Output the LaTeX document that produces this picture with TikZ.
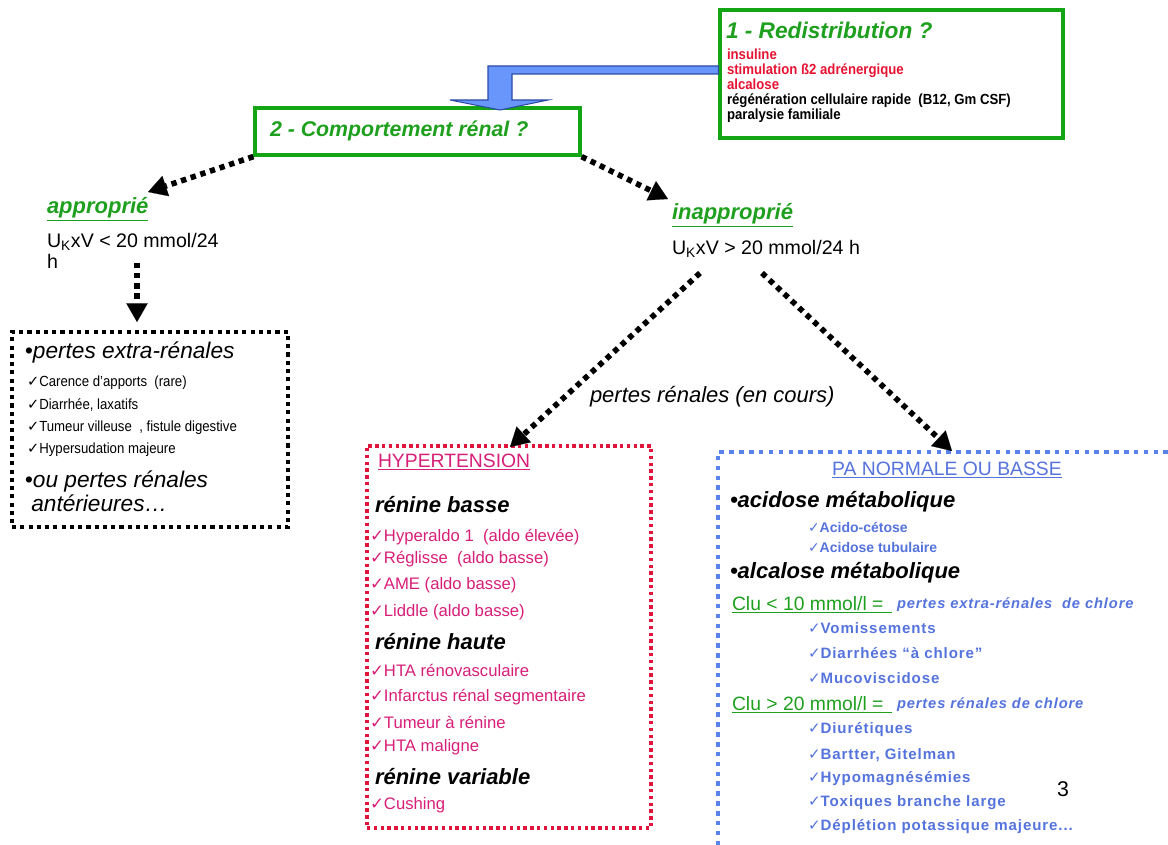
\documentclass[tikz,border=0pt]{standalone}
\usepackage{fontspec}
\setmainfont{Liberation Sans}
\newfontfamily\dv{DejaVu Sans}
\newfontfamily\nar[FakeStretch=0.8]{Liberation Sans}
\newfontfamily\semi[FakeStretch=0.9]{Liberation Sans}
\newfontfamily\spc[LetterSpace=6]{Liberation Sans}
\usetikzlibrary{arrows.meta}
\newcommand\fsz[1]{\fontsize{#1}{#1}\selectfont}
\newcommand\ck{{\dv ✓}}
\definecolor{gT}{RGB}{30,160,30}
\definecolor{gB}{RGB}{20,165,20}
\definecolor{rT}{RGB}{230,20,50}
\definecolor{pk}{RGB}{215,30,120}
\definecolor{rB}{RGB}{225,20,60}
\definecolor{bT}{RGB}{85,115,220}
\definecolor{bB}{RGB}{90,130,235}
\definecolor{aF}{RGB}{105,150,250}
\definecolor{aD}{RGB}{45,75,165}
\tikzset{
  txt/.style={anchor=west, inner sep=0pt, outer sep=0pt},
  gbox/.style={draw=gB, line width=2.4pt, inner sep=0pt},
  kbox/.style={draw=black, line width=3.2pt, dash pattern=on 3.1pt off 3.1pt, inner sep=0pt},
  rbox/.style={draw=rB, line width=2.6pt, dash pattern=on 2.5pt off 2.6pt, inner sep=0pt},
  bline/.style={draw=bB, line width=3.2pt, dash pattern=on 3.4pt off 4pt},
  karrow/.style={line width=4.2pt, dash pattern=on 4pt off 3.6pt,
    -{Triangle[length=14pt,width=16pt,line width=0.1pt]}},
  bluearrow/.style={fill=aF, draw=aD, line width=0.8pt},
  ttl/.style={txt, font=\fsz{16}\bfseries\itshape, text=gT},
  redis/.style={anchor=north west, inner sep=0pt, outer sep=0pt, align=left,
    font=\semi\bfseries\fontsize{11}{11.25}\selectfont},
  big/.style={txt, font=\fsz{17}\itshape},
  lit/.style={txt, font=\semi\fsz{11}},
  head/.style={txt, font=\fsz{16.5}\bfseries\itshape},
  pit/.style={txt, font=\fsz{12.5}, text=pk},
  bsm/.style={txt, font=\bfseries\fsz{10.5}, text=bT},
  bit/.style={txt, font=\spc\bfseries\fsz{11.3}, text=bT},
  clu/.style={txt, font=\fsz{14.5}, text=gT},
  cht/.style={txt, font=\spc\bfseries\itshape\fsz{11}, text=bT},
  uk/.style={txt, font=\fsz{14.7}},
}
\begin{document}
\begin{tikzpicture}[x=0.75pt,y=-0.75pt]
\useasboundingbox (0,0) rectangle (1168,845);

% box 1
\node[gbox, minimum width=257.25pt, minimum height=96pt] (b1) at (891.5,74) {};
\node[ttl, font=\fsz{17}\bfseries\itshape] (b1t) at (726,30) {1 - Redistribution ?};
\node[redis] (b1l) at (727,49) {\textcolor{rT}{insuline}\\
  \textcolor{rT}{stimulation ß2 adrénergique}\\
  \textcolor{rT}{alcalose}\\
  régénération cellulaire rapide\ \ (B12, Gm CSF)\\
  paralysie familiale};

% box 2
\node[gbox, minimum width=243.75pt, minimum height=35.25pt] (b2) at (417.5,131.5) {};
\node[ttl] (b2t) at (270,131) {2 - Comportement rénal ?};

% bent blue arrow from box 1 to box 2
\filldraw[bluearrow] (b1.west) -- ++(0,-8) -| (488,100) -- (450,100) -- (500,110)
  -- (548,100) -- (512,100) |- (b1.west) -- cycle;

% left branch
\node[ttl, font=\fsz{16.5}\bfseries\itshape] (ap) at (47,209) {\underline{approprié}};
\node[uk] (ap1) at (47,242) {U\textsubscript{K}xV < 20 mmol/24};
\node[uk] (ap2) at (47,261) {h};
\coordinate (apT) at (148,192);
\draw[karrow] (b2.south west) -- (apT);

\node[kbox, minimum width=207pt, minimum height=146.25pt] (lb) at (150,429.5) {};
\coordinate (dS) at (137,263);
\draw[karrow] (dS) -- (dS |- 0,322);
\node[big] (l1) at (25,353) {•pertes extra-rénales};
\node[lit] (l2) at (27,383) {\ck Carence d’apports\ \ (rare)};
\node[lit] (l3) at (27,405) {\ck Diarrhée, laxatifs};
\node[lit] (l4) at (27,428) {\ck Tumeur villeuse\ \ , fistule\ digestive};
\node[lit] (l5) at (27,450) {\ck Hypersudation majeure};
\node[big] (l6) at (25,482) {•ou pertes rénales};
\node[big] (l7) at (25,503) {\ antérieures…};

% right branch
\node[ttl, font=\fsz{16.5}\bfseries\itshape] (inap) at (672,215) {\underline{inapproprié}};
\node[uk] (in1) at (672,249) {U\textsubscript{K}xV > 20 mmol/24 h};
\coordinate (inT) at (668,199);
\draw[karrow] (b2.south east) -- (inT);
\node[txt, font=\fsz{16.5}\itshape] (prc) at (590,397) {pertes rénales (en cours)};

\coordinate (s1) at (700,273);
\coordinate (s2) at (762,273);

% red box
\node[rbox, minimum width=213pt, minimum height=286.5pt] (rb) at (509,637) {};
\draw[karrow] (s1) -- (510,447);
\node[txt, font=\fsz{14.5}, text=pk] (r0) at (378,462) {\underline{HYPERTENSION}};
\node[head] (rh1) at (375,505) {rénine basse};
\node[pit] (r1) at (370,537) {\ck Hyperaldo 1\ \ (aldo élevée)};
\node[pit] (r2) at (370,559) {\ck Réglisse\ \ (aldo basse)};
\node[pit] (r3) at (370,585) {\ck AME (aldo basse)};
\node[pit] (r4) at (370,612) {\ck Liddle (aldo basse)};
\node[head] (rh2) at (375,642) {rénine haute};
\node[pit] (r5) at (370,670) {\ck HTA rénovasculaire};
\node[pit] (r6) at (370,697) {\ck Infarctus rénal segmentaire};
\node[pit] (r7) at (370,722) {\ck Tumeur à rénine};
\node[pit] (r8) at (370,747) {\ck HTA maligne};
\node[head] (rh3) at (375,777) {rénine variable};
\node[pit] (r9) at (370,805) {\ck Cushing};

% blue box (open to the right and bottom)
\coordinate (bbTL) at (718,452);
\draw[bline] (1168,452) -- (bbTL) -- (718,845);
\draw[karrow] (s2) -- (952,451);
\node[txt, anchor=center, font=\fsz{14.5}, text=bT] (pa) at (947,470) {\underline{PA NORMALE OU BASSE}};
\node[head] (bh1) at (730,502) {•acidose métabolique};
\node[bsm] (bb1) at (808,527) {\ck Acido-cétose};
\node[bsm] (bb2) at (808,547) {\ck Acidose tubulaire};
\node[head] (bh2) at (730,573) {•alcalose métabolique};
\node[clu] (c1) at (732,605) {\underline{Clu < 10 mmol/l =\hspace{6pt}}};
\node[cht] (c1b) at (897,605) {pertes extra-rénales\ \ de chlore};
\node[bit] (bb3) at (808,628) {\ck Vomissements};
\node[bit] (bb4) at (808,653) {\ck Diarrhées “à chlore”};
\node[bit] (bb5) at (808,678) {\ck Mucoviscidose};
\node[clu] (c2) at (732,705) {\underline{Clu > 20 mmol/l =\hspace{6pt}}};
\node[cht] (c2b) at (897,705) {pertes rénales de chlore};
\node[bit] (bb6) at (808,730) {\ck Diurétiques};
\node[bit] (bb7) at (808,755) {\ck Bartter, Gitelman};
\node[bit] (bb8) at (808,779) {\ck Hypomagnésémies};
\node[bit] (bb9) at (808,803) {\ck Toxiques branche\ large};
\node[bit] (bb10) at (808,827) {\ck Déplétion potassique majeure...};
\node[txt, anchor=center, font=\fsz{16}] (pg) at (1063,789) {3};
\end{tikzpicture}
\end{document}
